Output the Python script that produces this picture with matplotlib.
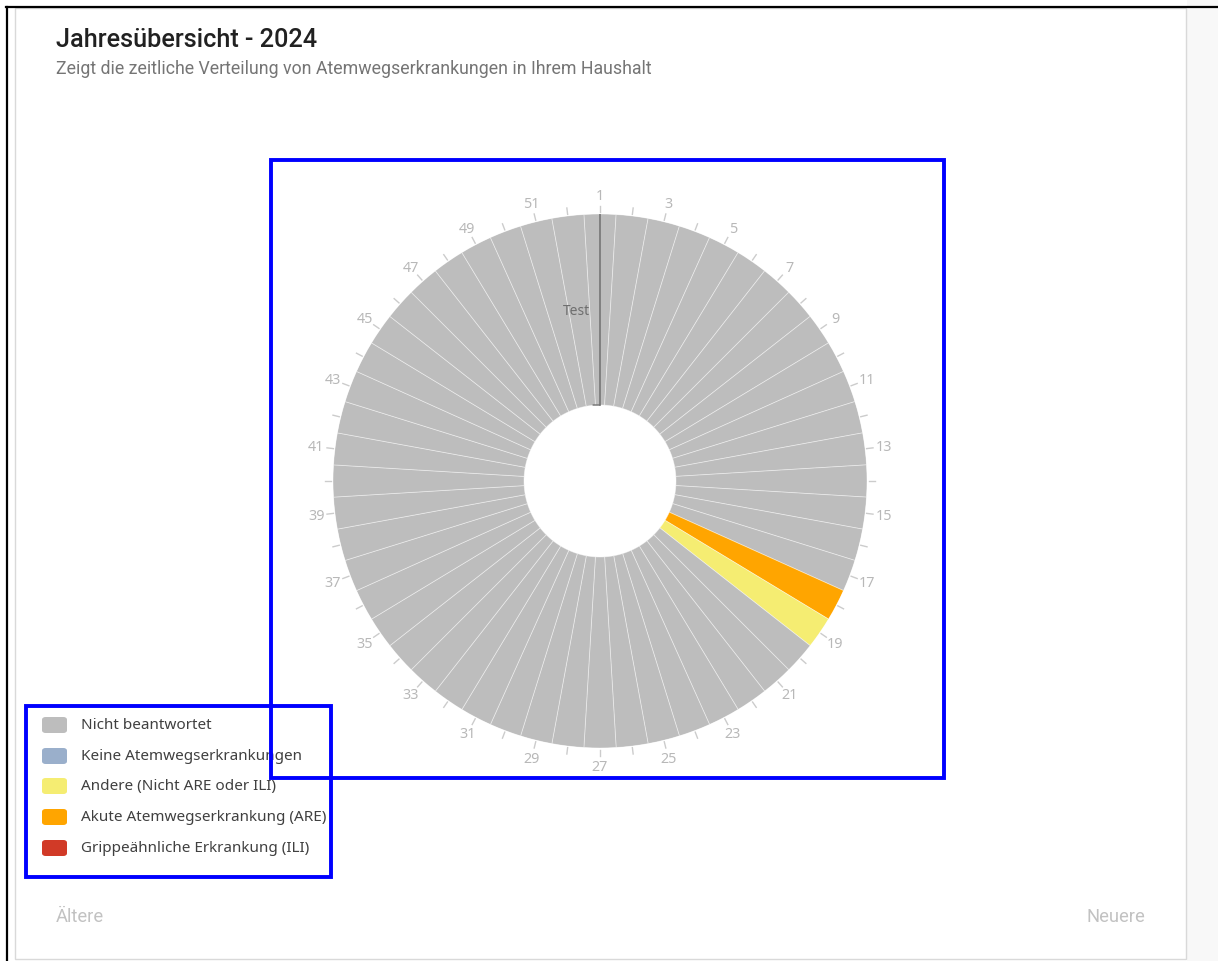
import numpy as np
import matplotlib
matplotlib.use("Agg")
import matplotlib.pyplot as plt
from matplotlib.patches import Rectangle, FancyBboxPatch
from matplotlib.lines import Line2D

# ---------------- data ----------------
title = "Jahresübersicht - 2024"
subtitle = "Zeigt die zeitliche Verteilung von Atemwegserkrankungen in Ihrem Haushalt"

categories = ["Nicht beantwortet", "Keine Atemwegserkrankungen",
              "Andere (Nicht ARE oder ILI)", "Akute Atemwegserkrankung (ARE)",
              "Grippeähnliche Erkrankung (ILI)"]
category_colors = ["#bdbdbd", "#9aafcb", "#f5ed72", "#ffa500", "#d13a27"]

weeks = list(range(1, 53))
# status code per week: 0=Nicht beantwortet, 2=Andere, 3=ARE
week_status = [0, 0, 0, 0, 0, 0, 0, 0, 0, 0, 0, 0, 0,
               0, 0, 0, 0, 3, 2, 0, 0, 0, 0, 0, 0, 0,
               0, 0, 0, 0, 0, 0, 0, 0, 0, 0, 0, 0, 0,
               0, 0, 0, 0, 0, 0, 0, 0, 0, 0, 0, 0, 0]
tick_labels = [str(w) if w % 2 == 1 else "" for w in weeks]
marker_week = 1
marker_label = "Test"

footer_left = "Ältere"
footer_right = "Neuere"

# ---------------- figure ----------------
W, H = 1218, 962
fig = plt.figure(figsize=(W / 100, H / 100), dpi=100)
fig.patch.set_facecolor("white")

def fx(x):
    return x / W

def fy(y):
    return 1 - y / H

# background strip on right, card, frame
fig.patches.append(Rectangle((fx(1187), 0), 1 - fx(1187), 1, transform=fig.transFigure,
                             facecolor="#f8f8f8", edgecolor="none", zorder=-3))
fig.patches.append(Rectangle((fx(15), fy(960)), fx(1186) - fx(15), fy(9) - fy(960),
                             transform=fig.transFigure, facecolor="white",
                             edgecolor="#d9d9d9", linewidth=1.0, zorder=-2))
fig.lines.append(Line2D([fx(6), 1], [fy(8), fy(8)], transform=fig.transFigure,
                        color="black", linewidth=1.6, zorder=5))
fig.lines.append(Line2D([fx(7), fx(7)], [fy(8), 0], transform=fig.transFigure,
                        color="black", linewidth=1.6, zorder=5))

# title
fig.text(fx(56), fy(40), title, fontsize=18.2, fontfamily="Roboto", fontweight="medium",
         color="#212121", ha="left", va="center")
fig.text(fx(56), fy(69), subtitle, fontsize=12.8, fontfamily="Roboto",
         color="#757575", ha="left", va="center")

# ---------------- polar chart ----------------
cx, cy, R = 600, 482, 267
ax = fig.add_axes([fx(cx - R), fy(cy + R), 2 * R / W, 2 * R / H], projection="polar")
ax.set_theta_zero_location("N")
ax.set_theta_direction(-1)
ax.set_ylim(0, 1)
ax.set_facecolor("none")
ax.grid(False)
ax.set_xticks([])
ax.set_yticks([])
ax.spines["polar"].set_visible(False)

inner = 76 / R
n = len(weeks)
width = 2 * np.pi / n
theta = np.array([(w - 1) * width for w in weeks])
colors = [category_colors[s] for s in week_status]
ax.bar(theta, [1 - inner] * n, width=width, bottom=inner, color=colors,
       edgecolor=(1, 1, 1, 0.45), linewidth=0.6, align="center")

# tick marks & labels
for t, lab in zip(theta, tick_labels):
    ax.plot([t, t], [1.006, 1.03], color="#cccccc", linewidth=1.0, clip_on=False)
    if lab:
        ax.text(t, 1.07, lab, ha="center", va="center", fontsize=10.3,
                fontfamily="Noto Sans", color="#b8b8b8", clip_on=False)

# marker line
mt = (marker_week - 1) * width
ax.plot([mt, mt], [inner, 1.0], color="#707070", linewidth=1.1, zorder=4)
ax.annotate(marker_label, xy=(mt, 0.64), xytext=(-7, 0), textcoords="offset points",
            ha="right", va="center", fontsize=10, fontfamily="Noto Sans", color="#6e6e6e")
ax.annotate("", xy=(mt, inner), xytext=(-5, 0), textcoords="offset points",
            arrowprops=dict(arrowstyle="-", color="#707070", lw=1.0,
                            shrinkA=0, shrinkB=0))

# ---------------- legend ----------------
row_y = [726, 757, 787, 818, 849]
for yy, lab, col in zip(row_y, categories, category_colors):
    fig.patches.append(FancyBboxPatch((fx(42), fy(yy + 8)), fx(67) - fx(42), fy(yy - 8) - fy(yy + 8),
                                      boxstyle="round,pad=0,rounding_size=0.003",
                                      transform=fig.transFigure, facecolor=col,
                                      edgecolor="none", zorder=3))
    fig.text(fx(81), fy(yy), lab, fontsize=11, fontfamily="Noto Sans", color="#404040",
             ha="left", va="center", zorder=3)

# footer
fig.text(fx(56), fy(917), footer_left, fontsize=13.2, fontfamily="Roboto",
         color="#c2c2c2", ha="left", va="center")
fig.text(fx(1145), fy(917), footer_right, fontsize=13.2, fontfamily="Roboto",
         color="#c2c2c2", ha="right", va="center")

# blue annotation boxes
for (l, t_, r, b) in [(271, 161, 944, 779), (26, 707, 331, 878)]:
    fig.patches.append(Rectangle((fx(l), fy(b)), fx(r) - fx(l), fy(t_) - fy(b),
                                 transform=fig.transFigure, facecolor="none",
                                 edgecolor="#0000ff", linewidth=2.8, zorder=10))

fig.savefig("out.png", dpi=100)
